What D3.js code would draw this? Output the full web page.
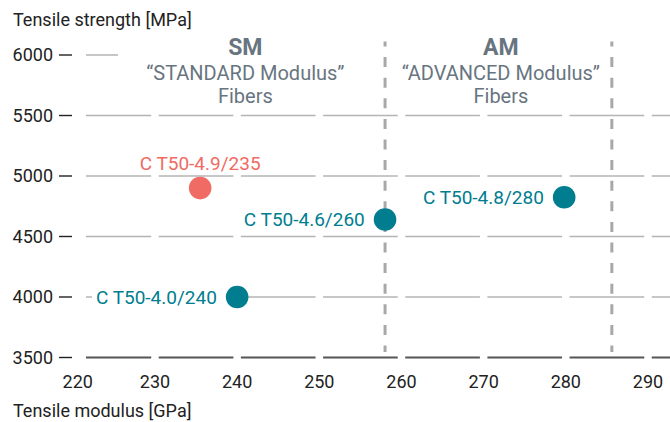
<!DOCTYPE html>
<html>
<head>
<meta charset="utf-8">
<script src="https://cdn.jsdelivr.net/npm/d3@7/dist/d3.min.js"></script>
<style>
  html, body { margin: 0; padding: 0; background: #fff; }
  svg { display: block; font-family: Roboto, "Noto Sans", sans-serif; }
</style>
</head>
<body>
<svg id="chart" width="670" height="422"></svg>
<script>
// ---- data ----
const names   = ["C T50-4.9/235", "C T50-4.0/240", "C T50-4.6/260", "C T50-4.8/280"];
const modulus = [235.5, 240, 258, 279.8];        // GPa
const strength = [4900, 4000, 4640, 4825];       // MPa
const groups  = ["red", "teal", "teal", "teal"];
const labelSide = ["top", "left", "left", "left"];
const xTicks = [220, 230, 240, 250, 260, 270, 280, 290];
const yTicks = [3500, 4000, 4500, 5000, 5500, 6000];
const dividers = [258, 285.6];
const classTitles = ["SM", "AM"];
const classSub = ["\u201CSTANDARD Modulus\u201D", "\u201CADVANCED Modulus\u201D"];
const classSub2 = ["Fibers", "Fibers"];
const classCenter = [241, 272.1];   // GPa, centre of class heading

const colors = { red: "#ef6b63", teal: "#007d8f" };

const svg = d3.select("#chart");
const x = d3.scaleLinear().domain([220, 290]).range([72.8, 648]);
const y = d3.scaleLinear().domain([3500, 6000]).range([357.5, 55]);

const gridX0 = 86, gridX1 = 670;

// horizontal gridlines
svg.append("g").selectAll("line").data(yTicks).join("line")
  .attr("x1", gridX0).attr("x2", gridX1)
  .attr("y1", d => y(d)).attr("y2", d => y(d))
  .attr("stroke", d => d === 3500 ? "#555" : "#b4b4b4")
  .attr("stroke-width", d => d === 3500 ? 2.2 : 1.5);

// white gaps at x ticks
svg.append("g").selectAll("line").data(xTicks).join("line")
  .attr("x1", d => x(d)).attr("x2", d => x(d))
  .attr("y1", 40).attr("y2", 365)
  .attr("stroke", "#fff").attr("stroke-width", 7.5);

// hide top gridline behind heading area
svg.append("rect").attr("x", 118).attr("y", 44).attr("width", 560).attr("height", 22).attr("fill", "#fff");

// class dividers
svg.append("g").selectAll("line").data(dividers).join("line")
  .attr("x1", d => x(d)).attr("x2", d => x(d))
  .attr("y1", 41.5).attr("y2", 352)
  .attr("stroke", "#a8a8a8").attr("stroke-width", 3)
  .attr("stroke-dasharray", "10 10.6").attr("stroke-dashoffset", 5);

// class headings
const heads = svg.append("g").attr("text-anchor", "middle").attr("fill", "#687580");
classTitles.forEach((t, i) => {
  const cx = x(classCenter[i]);
  heads.append("text").attr("x", cx).attr("y", 55).attr("font-size", 23).attr("font-weight", 700).text(t);
  heads.append("text").attr("x", cx).attr("y", 80).attr("font-size", 20).text(classSub[i]);
  heads.append("text").attr("x", cx).attr("y", 103).attr("font-size", 20).text(classSub2[i]);
});

// y axis ticks
const yAx = svg.append("g");
yAx.selectAll("text").data(yTicks).join("text")
  .attr("x", 53).attr("y", d => y(d)).attr("dy", "0.35em")
  .attr("text-anchor", "end").attr("font-size", 18).attr("fill", "#222")
  .text(d => d);
yAx.selectAll("line").data(yTicks).join("line")
  .attr("x1", 59).attr("x2", 72).attr("y1", d => y(d)).attr("y2", d => y(d))
  .attr("stroke", "#222").attr("stroke-width", 1.4);

// x axis ticks
svg.append("g").selectAll("text").data(xTicks).join("text")
  .attr("x", d => x(d) + (d === 220 ? 5 : 0)).attr("y", 388)
  .attr("text-anchor", "middle").attr("font-size", 18).attr("fill", "#222")
  .text(d => d);

// axis titles
svg.append("text").attr("x", 13).attr("y", 26).attr("font-size", 18).attr("fill", "#222").text("Tensile strength [MPa]");
svg.append("text").attr("x", 13).attr("y", 417).attr("font-size", 18).attr("fill", "#222").text("Tensile modulus [GPa]");

// points + labels
const r = 11.3;
const pts = svg.append("g");
names.forEach((n, i) => {
  const cx = x(modulus[i]), cy = y(strength[i]);
  const col = colors[groups[i]];
  const g = pts.append("g");
  let t;
  if (labelSide[i] === "top") {
    t = g.append("text").attr("x", cx).attr("y", cy - r - 6.5).attr("text-anchor", "middle");
  } else {
    t = g.append("text").attr("x", cx - r - 9).attr("y", cy).attr("dy", "0.35em").attr("text-anchor", "end");
  }
  t.attr("font-size", 19).attr("fill", col).text(n);
  if (labelSide[i] === "left") {
    const b = t.node().getBBox();
    g.insert("rect", "text").attr("x", b.x - 4).attr("y", cy - 5).attr("width", b.width + 14).attr("height", 10).attr("fill", "#fff");
  }
  g.append("circle").attr("cx", cx).attr("cy", cy).attr("r", r).attr("fill", col);
});
</script>
</body>
</html>
